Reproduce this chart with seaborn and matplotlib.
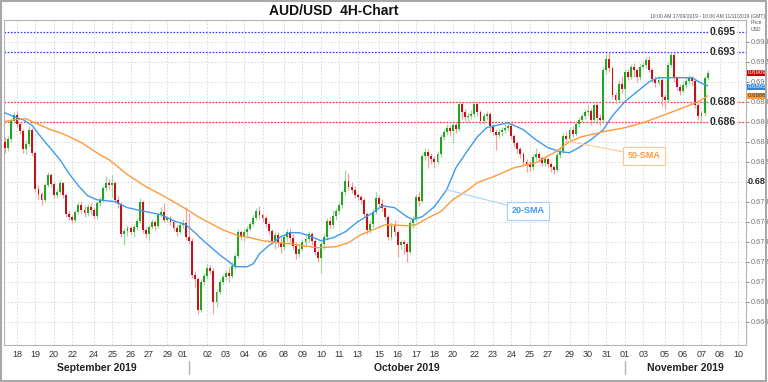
"""
AUD/USD 4H candlestick chart with 20-SMA / 50-SMA and key levels.
Output: out.png
"""

# =============================================================================
# IMPORTS
# =============================================================================

import numpy as np
import pandas as pd

import matplotlib
matplotlib.use("Agg")
import matplotlib.pyplot as plt
import matplotlib.transforms as mtransforms
from matplotlib.patches import Rectangle
import seaborn as sns

# =============================================================================
# DATA (4H bars, 17 Sep 2019 10:00 -> 07 Nov 2019)
# =============================================================================

opens = [
    0.6840, 0.6834, 0.6843, 0.6861,
    0.6867, 0.6858, 0.6851, 0.6833, 0.6838, 0.6852,
    0.6829, 0.6793, 0.6788, 0.6782, 0.6797, 0.6807,
    0.6798, 0.6787, 0.6790, 0.6799, 0.6787, 0.6768,
    0.6765,
    0.6762, 0.6770, 0.6777, 0.6772, 0.6769, 0.6775,
    0.6772, 0.6766, 0.6779, 0.6782, 0.6794, 0.6799,
    0.6797, 0.6799, 0.6782, 0.6778, 0.6748, 0.6751,
    0.6754, 0.6750, 0.6755, 0.6761, 0.6780, 0.6752,
    0.6748, 0.6755, 0.6760, 0.6756, 0.6767, 0.6770,
    0.6762,
    0.6764, 0.6760, 0.6754, 0.6750, 0.6757, 0.6759,
    0.6745, 0.6741, 0.6707, 0.6703, 0.6672, 0.6700,
    0.6706, 0.6714, 0.6711, 0.6680, 0.6690, 0.6700,
    0.6705, 0.6709, 0.6706, 0.6716, 0.6726, 0.6750,
    0.6745, 0.6750, 0.6753, 0.6758, 0.6764, 0.6771,
    0.6767,
    0.6764, 0.6758, 0.6751, 0.6741, 0.6747, 0.6739,
    0.6735, 0.6745, 0.6750, 0.6744, 0.6736, 0.6728,
    0.6733, 0.6740, 0.6743, 0.6748, 0.6741, 0.6730,
    0.6724, 0.6738, 0.6745, 0.6761, 0.6757, 0.6766,
    0.6771, 0.6777, 0.6790, 0.6801, 0.6795, 0.6792,
    0.6787,
    0.6785, 0.6782, 0.6768, 0.6752, 0.6758, 0.6770,
    0.6784, 0.6778, 0.6774, 0.6765, 0.6745, 0.6756,
    0.6750, 0.6737, 0.6740, 0.6738, 0.6730, 0.6759,
    0.6763, 0.6785, 0.6781, 0.6826, 0.6830, 0.6826,
    0.6823, 0.6820, 0.6828, 0.6845, 0.6850, 0.6854,
    0.6851,
    0.6857, 0.6853, 0.6878, 0.6870, 0.6865, 0.6866,
    0.6868, 0.6878, 0.6870, 0.6861, 0.6866, 0.6868,
    0.6856, 0.6850, 0.6847, 0.6850, 0.6852, 0.6854,
    0.6856, 0.6846, 0.6839, 0.6833, 0.6828, 0.6820,
    0.6818, 0.6815, 0.6825, 0.6828, 0.6824, 0.6819,
    0.6823,
    0.6818, 0.6815, 0.6812, 0.6827, 0.6831, 0.6846,
    0.6843, 0.6852, 0.6848, 0.6858, 0.6862, 0.6866,
    0.6870, 0.6871, 0.6862, 0.6877, 0.6864, 0.6862,
    0.6912, 0.6923, 0.6914, 0.6887, 0.6882, 0.6898,
    0.6893, 0.6910, 0.6905, 0.6915, 0.6912, 0.6905,
    0.6915,
    0.6917, 0.6922, 0.6912, 0.6903, 0.6899, 0.6902,
    0.6885, 0.6882, 0.6917, 0.6927, 0.6904, 0.6895,
    0.6891, 0.6897, 0.6901, 0.6904, 0.6901, 0.6877,
    0.6866, 0.6869, 0.6904,
]

highs = [
    0.6845, 0.6846, 0.6863, 0.6870,
    0.6871, 0.6860, 0.6853, 0.6842, 0.6856, 0.6854,
    0.6831, 0.6797, 0.6790, 0.6799, 0.6810, 0.6809,
    0.6800, 0.6793, 0.6802, 0.6800, 0.6789, 0.6771,
    0.6767,
    0.6772, 0.6780, 0.6781, 0.6776, 0.6778, 0.6779,
    0.6775, 0.6781, 0.6785, 0.6796, 0.6806, 0.6803,
    0.6807, 0.6801, 0.6786, 0.6780, 0.6754, 0.6757,
    0.6756, 0.6758, 0.6764, 0.6784, 0.6782, 0.6755,
    0.6757, 0.6763, 0.6762, 0.6769, 0.6775, 0.6779,
    0.6766,
    0.6766, 0.6762, 0.6757, 0.6760, 0.6763, 0.6775,
    0.6769, 0.6744, 0.6711, 0.6705, 0.6703, 0.6709,
    0.6718, 0.6717, 0.6714, 0.6693, 0.6703, 0.6708,
    0.6712, 0.6715, 0.6720, 0.6729, 0.6753, 0.6752,
    0.6753, 0.6756, 0.6761, 0.6767, 0.6774, 0.6776,
    0.6769,
    0.6766, 0.6760, 0.6753, 0.6750, 0.6750, 0.6745,
    0.6748, 0.6753, 0.6754, 0.6748, 0.6740, 0.6738,
    0.6743, 0.6746, 0.6751, 0.6750, 0.6743, 0.6733,
    0.6741, 0.6748, 0.6764, 0.6765, 0.6772, 0.6774,
    0.6780, 0.6792, 0.6812, 0.6809, 0.6800, 0.6796,
    0.6789,
    0.6787, 0.6784, 0.6770, 0.6762, 0.6773, 0.6790,
    0.6787, 0.6783, 0.6776, 0.6767, 0.6760, 0.6762,
    0.6752, 0.6742, 0.6742, 0.6740, 0.6762, 0.6766,
    0.6788, 0.6790, 0.6829, 0.6834, 0.6833, 0.6829,
    0.6826, 0.6831, 0.6848, 0.6853, 0.6858, 0.6857,
    0.6859,
    0.6860, 0.6881, 0.6880, 0.6873, 0.6869, 0.6872,
    0.6881, 0.6880, 0.6872, 0.6869, 0.6871, 0.6870,
    0.6858, 0.6853, 0.6853, 0.6855, 0.6858, 0.6859,
    0.6858, 0.6848, 0.6841, 0.6835, 0.6830, 0.6823,
    0.6821, 0.6828, 0.6834, 0.6830, 0.6826, 0.6826,
    0.6824,
    0.6820, 0.6817, 0.6830, 0.6834, 0.6849, 0.6850,
    0.6855, 0.6856, 0.6861, 0.6865, 0.6869, 0.6873,
    0.6877, 0.6874, 0.6880, 0.6879, 0.6868, 0.6915,
    0.6929, 0.6930, 0.6916, 0.6890, 0.6902, 0.6906,
    0.6913, 0.6913, 0.6918, 0.6919, 0.6914, 0.6918,
    0.6920,
    0.6925, 0.6926, 0.6914, 0.6906, 0.6906, 0.6904,
    0.6888, 0.6920, 0.6930, 0.6929, 0.6906, 0.6898,
    0.6900, 0.6904, 0.6907, 0.6906, 0.6903, 0.6880,
    0.6871, 0.6906, 0.6912,
]

lows = [
    0.6829, 0.6831, 0.6840, 0.6859,
    0.6855, 0.6848, 0.6829, 0.6828, 0.6836, 0.6826,
    0.6790, 0.6783, 0.6777, 0.6780, 0.6795, 0.6795,
    0.6784, 0.6784, 0.6788, 0.6784, 0.6765, 0.6762,
    0.6759,
    0.6760, 0.6768, 0.6769, 0.6765, 0.6766, 0.6768,
    0.6763, 0.6763, 0.6776, 0.6780, 0.6791, 0.6793,
    0.6785, 0.6779, 0.6774, 0.6745, 0.6737, 0.6746,
    0.6747, 0.6745, 0.6752, 0.6759, 0.6749, 0.6744,
    0.6742, 0.6753, 0.6752, 0.6754, 0.6765, 0.6760,
    0.6760,
    0.6757, 0.6751, 0.6746, 0.6748, 0.6754, 0.6742,
    0.6738, 0.6704, 0.6695, 0.6668, 0.6670, 0.6697,
    0.6703, 0.6708, 0.6668, 0.6675, 0.6688, 0.6698,
    0.6702, 0.6700, 0.6704, 0.6713, 0.6724, 0.6742,
    0.6741, 0.6746, 0.6751, 0.6756, 0.6762, 0.6763,
    0.6760,
    0.6755, 0.6748, 0.6738, 0.6733, 0.6735, 0.6729,
    0.6732, 0.6741, 0.6740, 0.6733, 0.6723, 0.6725,
    0.6731, 0.6736, 0.6740, 0.6737, 0.6727, 0.6720,
    0.6709, 0.6733, 0.6742, 0.6754, 0.6754, 0.6762,
    0.6768, 0.6774, 0.6787, 0.6792, 0.6789, 0.6784,
    0.6782,
    0.6778, 0.6765, 0.6748, 0.6749, 0.6755, 0.6768,
    0.6775, 0.6771, 0.6762, 0.6742, 0.6742, 0.6746,
    0.6725, 0.6733, 0.6728, 0.6720, 0.6728, 0.6754,
    0.6760, 0.6776, 0.6779, 0.6822, 0.6814, 0.6818,
    0.6814, 0.6818, 0.6825, 0.6842, 0.6847, 0.6846,
    0.6839,
    0.6849, 0.6851, 0.6863, 0.6861, 0.6860, 0.6863,
    0.6865, 0.6866, 0.6858, 0.6858, 0.6862, 0.6850,
    0.6847, 0.6832, 0.6844, 0.6846, 0.6849, 0.6851,
    0.6843, 0.6835, 0.6829, 0.6824, 0.6816, 0.6810,
    0.6811, 0.6812, 0.6822, 0.6820, 0.6816, 0.6816,
    0.6815,
    0.6810, 0.6808, 0.6810, 0.6824, 0.6829, 0.6840,
    0.6840, 0.6845, 0.6846, 0.6855, 0.6859, 0.6863,
    0.6866, 0.6857, 0.6860, 0.6858, 0.6856, 0.6860,
    0.6908, 0.6910, 0.6884, 0.6878, 0.6880, 0.6889,
    0.6884, 0.6902, 0.6903, 0.6905, 0.6900, 0.6902,
    0.6913,
    0.6914, 0.6910, 0.6900, 0.6895, 0.6897, 0.6876,
    0.6873, 0.6880, 0.6915, 0.6900, 0.6892, 0.6887,
    0.6889, 0.6894, 0.6898, 0.6897, 0.6874, 0.6862,
    0.6860, 0.6866, 0.6902,
]

closes = [
    0.6834, 0.6843, 0.6861, 0.6867,
    0.6858, 0.6851, 0.6833, 0.6838, 0.6852, 0.6829,
    0.6793, 0.6788, 0.6782, 0.6797, 0.6807, 0.6798,
    0.6787, 0.6790, 0.6799, 0.6787, 0.6768, 0.6765,
    0.6762,
    0.6770, 0.6777, 0.6772, 0.6769, 0.6775, 0.6772,
    0.6766, 0.6779, 0.6782, 0.6794, 0.6799, 0.6797,
    0.6799, 0.6782, 0.6778, 0.6748, 0.6751, 0.6754,
    0.6750, 0.6755, 0.6761, 0.6780, 0.6752, 0.6748,
    0.6755, 0.6760, 0.6756, 0.6767, 0.6770, 0.6762,
    0.6764,
    0.6760, 0.6754, 0.6750, 0.6757, 0.6759, 0.6745,
    0.6741, 0.6707, 0.6703, 0.6672, 0.6700, 0.6706,
    0.6714, 0.6711, 0.6680, 0.6690, 0.6700, 0.6705,
    0.6709, 0.6706, 0.6716, 0.6726, 0.6750, 0.6745,
    0.6750, 0.6753, 0.6758, 0.6764, 0.6771, 0.6767,
    0.6764,
    0.6758, 0.6751, 0.6741, 0.6747, 0.6739, 0.6735,
    0.6745, 0.6750, 0.6744, 0.6736, 0.6728, 0.6733,
    0.6740, 0.6743, 0.6748, 0.6741, 0.6730, 0.6724,
    0.6738, 0.6745, 0.6761, 0.6757, 0.6766, 0.6771,
    0.6777, 0.6790, 0.6801, 0.6795, 0.6792, 0.6787,
    0.6785,
    0.6782, 0.6768, 0.6752, 0.6758, 0.6770, 0.6784,
    0.6778, 0.6774, 0.6765, 0.6745, 0.6756, 0.6750,
    0.6737, 0.6740, 0.6738, 0.6730, 0.6759, 0.6763,
    0.6785, 0.6781, 0.6826, 0.6830, 0.6826, 0.6823,
    0.6820, 0.6828, 0.6845, 0.6850, 0.6854, 0.6851,
    0.6857,
    0.6853, 0.6878, 0.6870, 0.6865, 0.6866, 0.6868,
    0.6878, 0.6870, 0.6861, 0.6866, 0.6868, 0.6856,
    0.6850, 0.6847, 0.6850, 0.6852, 0.6854, 0.6856,
    0.6846, 0.6839, 0.6833, 0.6828, 0.6820, 0.6818,
    0.6815, 0.6825, 0.6828, 0.6824, 0.6819, 0.6823,
    0.6818,
    0.6815, 0.6812, 0.6827, 0.6831, 0.6846, 0.6843,
    0.6852, 0.6848, 0.6858, 0.6862, 0.6866, 0.6870,
    0.6871, 0.6862, 0.6877, 0.6864, 0.6862, 0.6912,
    0.6923, 0.6914, 0.6887, 0.6882, 0.6898, 0.6893,
    0.6910, 0.6905, 0.6915, 0.6912, 0.6905, 0.6915,
    0.6917,
    0.6922, 0.6912, 0.6903, 0.6899, 0.6902, 0.6885,
    0.6882, 0.6917, 0.6927, 0.6904, 0.6895, 0.6891,
    0.6897, 0.6901, 0.6904, 0.6901, 0.6877, 0.6866,
    0.6869, 0.6904, 0.6909,
]

# moving averages at these bar numbers
sma20_idx = [
    0, 3, 6, 9, 12, 15, 18, 21, 24, 27,
    30, 36, 40, 46, 51, 55, 59, 62, 64, 67,
    70, 73, 75, 79, 81, 83, 86, 90, 93, 96,
    100, 103, 107, 111, 115, 120, 123, 127, 131, 133,
    136, 140, 144, 147, 151, 154, 157, 164, 169, 173,
    177, 181, 184, 187, 191, 195, 198, 202, 206, 210,
    213, 219, 224, 226, 229,
]
sma20_val = [
    0.6869, 0.6865, 0.6862, 0.6856, 0.6844, 0.6833, 0.6822, 0.6808, 0.6796, 0.6786,
    0.6782, 0.6780, 0.6774, 0.6770, 0.6767, 0.6761, 0.6757, 0.6749, 0.6743, 0.6735,
    0.6727, 0.6720, 0.6715, 0.6715, 0.6718, 0.6728, 0.6736, 0.6745, 0.6749, 0.6749,
    0.6745, 0.6741, 0.6744, 0.6750, 0.6760, 0.6769, 0.6776, 0.6774, 0.6765, 0.6762,
    0.6765, 0.6775, 0.6792, 0.6814, 0.6832, 0.6845, 0.6854, 0.6859, 0.6852, 0.6842,
    0.6834, 0.6830, 0.6829, 0.6834, 0.6842, 0.6852, 0.6866, 0.6880, 0.6890, 0.6900,
    0.6904, 0.6904, 0.6904, 0.6900, 0.6896,
]

sma50_idx = [
    0, 3, 7, 9, 15, 18, 21, 25, 28, 31,
    34, 40, 46, 51, 55, 60, 63, 66, 71, 76,
    80, 84, 89, 93, 97, 102, 108, 112, 116, 120,
    124, 131, 134, 138, 142, 146, 151, 154, 160, 166,
    173, 179, 184, 188, 195, 202, 208, 215, 221, 226,
    229,
]
sma50_val = [
    0.6860, 0.6862, 0.6863, 0.6860, 0.6852, 0.6849, 0.6845, 0.6839, 0.6833, 0.6827,
    0.6822, 0.6807, 0.6795, 0.6787, 0.6780, 0.6771, 0.6765, 0.6760, 0.6752, 0.6746,
    0.6744, 0.6741, 0.6739, 0.6738, 0.6736, 0.6734, 0.6735, 0.6739, 0.6747, 0.6752,
    0.6757, 0.6756, 0.6757, 0.6764, 0.6770, 0.6782, 0.6792, 0.6799, 0.6806, 0.6814,
    0.6819, 0.6829, 0.6840, 0.6845, 0.6850, 0.6854, 0.6859, 0.6867, 0.6874, 0.6880,
    0.6886,
]

resistance_levels = [0.695, 0.693]
support_levels = [0.688, 0.686]
round_level = 0.68

last_price = 0.6909
last_sma20 = 0.6895
last_sma50 = 0.6886

y_ticks = [0.666, 0.668, 0.670, 0.672, 0.674, 0.676, 0.678, 0.680,
           0.682, 0.684, 0.686, 0.688, 0.690, 0.692, 0.694]

# =============================================================================
# TIME AXIS (bar numbers per calendar day)
# =============================================================================

days = pd.date_range("2019-09-17", "2019-11-10", freq="D")

bars_in_day = []
for d in days:
    if d == days[0]:
        bars_in_day.append(4)
    elif d.dayofweek == 5:
        bars_in_day.append(0)
    elif d.dayofweek == 6:
        bars_in_day.append(1)
    else:
        bars_in_day.append(6)

day_start = np.concatenate([[0], np.cumsum(bars_in_day)[:-1]])

tick_pos = []
tick_lab = []
for d, s in zip(days, day_start):
    if d == days[0] or d.dayofweek in (0, 5):
        continue
    tick_pos.append(s)
    tick_lab.append(d.strftime("%d"))

oct_start = day_start[list(days).index(pd.Timestamp("2019-10-01"))]
nov_start = day_start[list(days).index(pd.Timestamp("2019-11-01"))]

# =============================================================================
# STYLE
# =============================================================================

sns.set_theme(style="white")
plt.rcParams["font.family"] = ["Liberation Sans", "DejaVu Sans"]

GREEN = "#23a523"
GREEN_WICK = "#9ed69e"
RED = "#c3121b"
RED_WICK = "#f0a0a0"
BLUE_SMA = "#3d9bf0"
ORANGE_SMA = "#ff9a3c"

# =============================================================================
# FIGURE
# =============================================================================

fig = plt.figure(figsize=(7.68, 3.82), dpi=100)
ax = fig.add_axes([4 / 768, 37 / 382, 742 / 768, 325 / 382])

o = np.array(opens)
h = np.array(highs)
l = np.array(lows)
c = np.array(closes)
x = np.arange(len(c))

up = c >= o
body_col = np.where(up, GREEN, RED)
wick_col = np.where(up, GREEN_WICK, RED_WICK)

# wicks
ax.vlines(
    x,
    np.minimum(l, np.minimum(o, c)),
    np.maximum(h, np.maximum(o, c)),
    colors=wick_col,
    linewidth=0.9,
    zorder=3
)

# bodies
ax.bar(
    x,
    np.maximum(np.abs(c - o), 0.00005),
    bottom=np.minimum(o, c),
    width=0.62,
    color=body_col,
    linewidth=0,
    zorder=4
)

# moving averages
sns.lineplot(x=sma20_idx, y=sma20_val, ax=ax, color=BLUE_SMA,
             linewidth=1.0, zorder=5)
sns.lineplot(x=sma50_idx, y=sma50_val, ax=ax, color=ORANGE_SMA,
             linewidth=1.0, zorder=5)

# levels
for lv in resistance_levels:
    ax.axhline(lv, color="#3535ff", linestyle=(0, (1.3, 1.3)),
               linewidth=0.9, zorder=2)
for lv in support_levels:
    ax.axhline(lv, color="#ff3030", linestyle=(0, (1.3, 1.3)),
               linewidth=0.9, zorder=2)

# =============================================================================
# AXES
# =============================================================================

ax.set_xlim(-0.23, 241.5)
ax.set_ylim(0.66367, 0.69617)

ax.set_xticks(tick_pos)
ax.set_xticklabels(tick_lab)

ax.yaxis.tick_right()
ax.set_yticks(y_ticks)
ylabels = []
for v in y_ticks:
    if abs(v - round_level) < 1e-9:
        ylabels.append("")
    else:
        ylabels.append(f"{v:.3f}".rstrip("0"))
ax.set_yticklabels(ylabels)

ax.tick_params(axis="x", length=0, labelsize=6.5, colors="#333333", pad=3.5)
ax.tick_params(axis="y", length=2, width=0.6, labelsize=5.3,
               colors="#777777", pad=1.5)

ax.grid(True, color="#d6d6d6", linestyle=(0, (2, 2)), linewidth=0.6)
ax.set_axisbelow(True)

for sp in ax.spines.values():
    sp.set_color("#b5b5b5")
    sp.set_linewidth(0.8)

ax.set_xlabel("")
ax.set_ylabel("")

# shift the October "01" label a little left, as in the source chart
for lbl, pos in zip(ax.get_xticklabels(), tick_pos):
    if pos == oct_start:
        lbl.set_transform(lbl.get_transform() +
                          mtransforms.ScaledTranslation(-0.06, 0, fig.dpi_scale_trans))

# month labels + separators
bt = mtransforms.blended_transform_factory(ax.transData, ax.transAxes)
month_centres = [
    ("September 2019", oct_start / 2),
    ("October 2019", (oct_start + nov_start) / 2),
    ("November 2019", (nov_start + 241.5) / 2),
]
for name, xc in month_centres:
    ax.text(xc, -0.071, name, transform=bt, ha="center", va="center",
            fontsize=7.5, fontweight="bold", color="#222222", clip_on=False)
for xs in [oct_start, nov_start]:
    ax.plot([xs, xs], [-0.049, -0.090], transform=bt, color="#b0b0b0",
            linewidth=1.0, clip_on=False)

# =============================================================================
# LABELS
# =============================================================================

yt = mtransforms.blended_transform_factory(ax.transAxes, ax.transData)

for lv in resistance_levels + support_levels:
    ax.text(0.9865, lv, f"{lv:.3f}", transform=yt, ha="right", va="center",
            fontsize=7.5, fontweight="bold", color="#2a2a2a", zorder=6,
            bbox=dict(boxstyle="square,pad=0.1", fc="white", ec="none"))

ax.text(1.002, round_level, f"{round_level:.2f}", transform=yt, ha="left",
        va="center", fontsize=6.6, fontweight="bold", color="#2a2a2a",
        clip_on=False)

price_boxes = [
    (last_price, "#c80000", "white"),
    (last_sma20, "#2b86e0", "white"),
    (last_sma50, "#ff9a3c", "#5a2a00"),
]
for val, fc, tc in price_boxes:
    ax.text(1.002, val, f"{val:.4f}", transform=yt, ha="left", va="center",
            fontsize=4.4, color=tc, clip_on=False, zorder=7,
            bbox=dict(boxstyle="square,pad=0.05", fc=fc, ec="none"))

# SMA call-outs
ax.annotate(
    "20-SMA",
    xy=(144, sma20_val[sma20_idx.index(144)]),
    xytext=(170.6, 0.6771),
    ha="center", va="center",
    fontsize=6.5, fontweight="bold", color=BLUE_SMA,
    bbox=dict(boxstyle="square,pad=0.5", fc="white", ec="#a9d3f7", lw=0.9),
    arrowprops=dict(arrowstyle="-", color="#a9d3f7", lw=0.8,
                    shrinkA=0, shrinkB=0),
    zorder=6
)

ax.annotate(
    "50-SMA",
    xy=(184, sma50_val[sma50_idx.index(184)]),
    xytext=(208.2, 0.6826),
    ha="center", va="center",
    fontsize=6.5, fontweight="bold", color=ORANGE_SMA,
    bbox=dict(boxstyle="square,pad=0.5", fc="white", ec="#ffc795", lw=0.9),
    arrowprops=dict(arrowstyle="-", color="#ffc795", lw=0.8,
                    shrinkA=0, shrinkB=0),
    zorder=6
)

# title and header texts
fig.text(0.434, 0.972, "AUD/USD  4H-Chart", ha="center", va="center",
         fontsize=10, fontweight="bold", color="#111111")
fig.text(0.996, 0.958, "10:00 AM 17/09/2019 - 10:00 AM 11/11/2019 (GMT)",
         ha="right", va="center", fontsize=3.6, color="#555555")
fig.text(0.978, 0.942, "Price", ha="left", va="center", fontsize=3.6,
         color="#555555")
fig.text(0.978, 0.924, "USD", ha="left", va="center", fontsize=3.6,
         color="#555555")

# outer frame
fig.patches.append(Rectangle((0.001, 0.002), 0.997, 0.995,
                             transform=fig.transFigure, fill=False,
                             edgecolor="#a8a8a8", linewidth=1.5))

fig.savefig("out.png", dpi=100)
plt.close(fig)
